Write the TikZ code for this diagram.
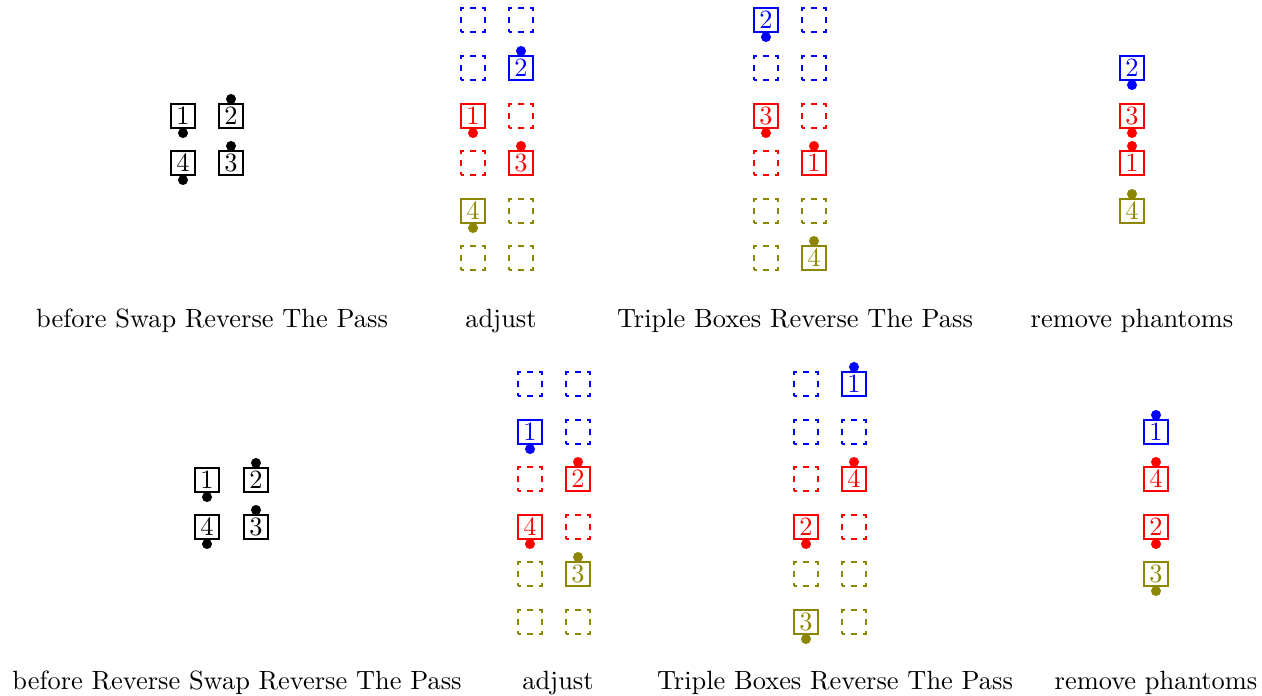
\documentclass[tikz,border=0pt]{standalone}
\usetikzlibrary{calc}
% dots sitting on the lower / upper edge of a cell
\newcommand\lowdot[2]{\fill[#1] ([yshift=-1.7pt]#2.south) circle (1.9pt);}
\newcommand\highdot[2]{\fill[#1] ([yshift=1.7pt]#2.north) circle (1.9pt);}
\begin{document}
\begin{tikzpicture}[x=0.3788pt,y=-0.3788pt,
  cell/.style={draw, minimum width=9.1pt, minimum height=9.1pt, inner sep=0pt, line width=0.4pt},
  ghost/.style={cell, dash pattern=on 2.55pt off 2pt, dash phase=1.275pt},
  caption/.style={inner sep=0pt, anchor=base}]
\useasboundingbox (0,0) rectangle (1262,696);

% ---------- upper row ----------
% before Swap Reverse The Pass
\node[cell] (a1) at (183,116) {1}; \lowdot{black}{a1}
\node[cell] (a2) at (231,116) {2}; \highdot{black}{a2}
\node[cell] (a4) at (183,163) {4}; \lowdot{black}{a4}
\node[cell] (a3) at (231,163) {3}; \highdot{black}{a3}
\node[caption] (capa) at (212,327) {before Swap Reverse The Pass};

% adjust
\node[ghost,blue] (b11) at (473,20) {};
\node[ghost,blue] (b12) at (521,20) {};
\node[ghost,blue] (b21) at (473,68) {};
\node[cell,blue] (b22) at (521,68) {2}; \highdot{blue}{b22}
\node[cell,red] (b31) at (473,116) {1}; \lowdot{red}{b31}
\node[ghost,red] (b32) at (521,116) {};
\node[ghost,red] (b41) at (473,163) {};
\node[cell,red] (b42) at (521,163) {3}; \highdot{red}{b42}
\node[cell,olive] (b51) at (473,211) {4}; \lowdot{olive}{b51}
\node[ghost,olive] (b52) at (521,211) {};
\node[ghost,olive] (b61) at (473,258) {};
\node[ghost,olive] (b62) at (521,258) {};
\node[caption] (capb) at (501,327) {adjust};

% Triple Boxes Reverse The Pass
\node[cell,blue] (c11) at (766,20) {2}; \lowdot{blue}{c11}
\node[ghost,blue] (c12) at (814,20) {};
\node[ghost,blue] (c21) at (766,68) {};
\node[ghost,blue] (c22) at (814,68) {};
\node[cell,red] (c31) at (766,116) {3}; \lowdot{red}{c31}
\node[ghost,red] (c32) at (814,116) {};
\node[ghost,red] (c41) at (766,163) {};
\node[cell,red] (c42) at (814,163) {1}; \highdot{red}{c42}
\node[ghost,olive] (c51) at (766,211) {};
\node[ghost,olive] (c52) at (814,211) {};
\node[ghost,olive] (c61) at (766,258) {};
\node[cell,olive] (c62) at (814,258) {4}; \highdot{olive}{c62}
\node[caption] (capc) at (795,327) {Triple Boxes Reverse The Pass};

% remove phantoms
\node[cell,blue] (d1) at (1132,68) {2}; \lowdot{blue}{d1}
\node[cell,red] (d2) at (1132,116) {3}; \lowdot{red}{d2}
\node[cell,red] (d3) at (1132,163) {1}; \highdot{red}{d3}
\node[cell,olive] (d4) at (1132,211) {4}; \highdot{olive}{d4}
\node[caption] (capd) at (1132,327) {remove phantoms};

% ---------- lower row ----------
% before Reverse Swap Reverse The Pass
\node[cell] (e1) at (207,480) {1}; \lowdot{black}{e1}
\node[cell] (e2) at (256,480) {2}; \highdot{black}{e2}
\node[cell] (e4) at (207,527) {4}; \lowdot{black}{e4}
\node[cell] (e3) at (256,527) {3}; \highdot{black}{e3}
\node[caption] (cape) at (237,689) {before Reverse Swap Reverse The Pass};

% adjust
\node[ghost,blue] (f11) at (530,384) {};
\node[ghost,blue] (f12) at (578,384) {};
\node[cell,blue] (f21) at (530,432) {1}; \lowdot{blue}{f21}
\node[ghost,blue] (f22) at (578,432) {};
\node[ghost,red] (f31) at (530,479) {};
\node[cell,red] (f32) at (578,479) {2}; \highdot{red}{f32}
\node[cell,red] (f41) at (530,527) {4}; \lowdot{red}{f41}
\node[ghost,red] (f42) at (578,527) {};
\node[ghost,olive] (f51) at (530,574) {};
\node[cell,olive] (f52) at (578,574) {3}; \highdot{olive}{f52}
\node[ghost,olive] (f61) at (530,622) {};
\node[ghost,olive] (f62) at (578,622) {};
\node[caption] (capf) at (558,689) {adjust};

% Triple Boxes Reverse The Pass
\node[ghost,blue] (g11) at (806,384) {};
\node[cell,blue] (g12) at (854,384) {1}; \highdot{blue}{g12}
\node[ghost,blue] (g21) at (806,432) {};
\node[ghost,blue] (g22) at (854,432) {};
\node[ghost,red] (g31) at (806,479) {};
\node[cell,red] (g32) at (854,479) {4}; \highdot{red}{g32}
\node[cell,red] (g41) at (806,527) {2}; \lowdot{red}{g41}
\node[ghost,red] (g42) at (854,527) {};
\node[ghost,olive] (g51) at (806,574) {};
\node[ghost,olive] (g52) at (854,574) {};
\node[cell,olive] (g61) at (806,622) {3}; \lowdot{olive}{g61}
\node[ghost,olive] (g62) at (854,622) {};
\node[caption] (capg) at (835,689) {Triple Boxes Reverse The Pass};

% remove phantoms
\node[cell,blue] (h1) at (1156,432) {1}; \highdot{blue}{h1}
\node[cell,red] (h2) at (1156,479) {4}; \highdot{red}{h2}
\node[cell,red] (h3) at (1156,527) {2}; \lowdot{red}{h3}
\node[cell,olive] (h4) at (1156,574) {3}; \lowdot{olive}{h4}
\node[caption] (caph) at (1156,689) {remove phantoms};
\end{tikzpicture}
\end{document}
